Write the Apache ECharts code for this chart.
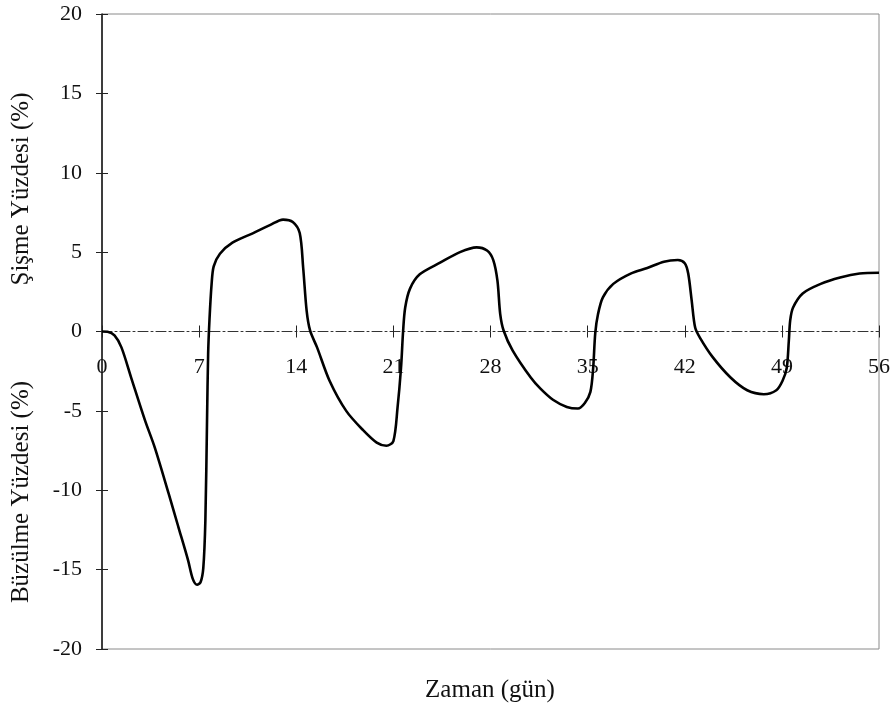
<!DOCTYPE html>
<html>
<head>
<meta charset="utf-8">
<script src="https://cdn.jsdelivr.net/npm/echarts@6/dist/echarts.min.js"></script>
<style>
html,body{margin:0;padding:0;background:#fff;}
#chart{width:895px;height:708px;}
</style>
</head>
<body>
<div id="chart"></div>
<script>
const days = [0, 0.4, 0.9, 1.4, 2.1, 3.1, 3.8, 4.8, 5.5, 6.2, 6.55, 6.85, 7.1, 7.3, 7.45, 7.57, 7.65, 7.75, 7.9, 8.05, 8.5, 9.4, 10.9, 12.1, 13.05, 13.75, 14.25, 14.5, 14.75, 15.0, 15.5, 16.4, 17.6, 18.8, 19.8, 20.5, 21.0, 21.3, 21.55, 21.7, 21.85, 22.2, 22.9, 24.4, 25.8, 27.0, 27.75, 28.2, 28.5, 28.7, 28.95, 29.6, 30.9, 31.6, 32.5, 33.5, 34.3, 34.8, 35.2, 35.4, 35.55, 35.75, 36.1, 36.85, 38.1, 39.3, 40.5, 41.5, 42.0, 42.25, 42.5, 42.75, 43.1, 44.0, 45.3, 46.5, 47.7, 48.6, 49.05, 49.35, 49.5, 49.6, 49.8, 50.5, 51.8, 53.2, 54.6, 56];
const values = [0, -0.02, -0.25, -1.0, -2.9, -5.6, -7.3, -10.2, -12.3, -14.4, -15.6, -15.95, -15.8, -14.9, -11.9, -5.6, -1.4, 0.8, 3.0, 4.1, 4.9, 5.6, 6.2, 6.7, 7.05, 6.9, 6.2, 4.0, 1.3, 0.05, -1.0, -3.1, -5.0, -6.2, -7.0, -7.2, -6.9, -4.8, -2.3, 0, 1.5, 2.7, 3.6, 4.35, 5.0, 5.3, 5.1, 4.5, 3.2, 1.1, 0.05, -1.2, -2.9, -3.6, -4.3, -4.75, -4.85, -4.5, -3.8, -2.3, -0.1, 1.1, 2.15, 3.0, 3.65, 4.0, 4.4, 4.5, 4.3, 3.65, 1.95, 0.25, -0.4, -1.6, -2.9, -3.7, -3.95, -3.7, -3.1, -2.3, -0.6, 0.7, 1.5, 2.4, 3.0, 3.4, 3.65, 3.7];
const xTicks = [0, 7, 14, 21, 28, 35, 42, 49, 56];
const yTicks = [-20, -15, -10, -5, 0, 5, 10, 15, 20];
const xTitle = 'Zaman (gün)';
const yTitleTop = 'Şişme Yüzdesi (%)';
const yTitleBottom = 'Büzülme Yüzdesi (%)';

const FONT = '"Liberation Serif", "DejaVu Serif", serif';
const W = 895, H = 708;
const G = {left: 102, right: 16, top: 14, bottom: 59};
const yMin = yTicks[0], yMax = yTicks[yTicks.length - 1];
const gridH = H - G.top - G.bottom;
// place the x axis on the zero line (negative offset from the grid bottom)
const zeroOffset = -gridH * (0 - yMin) / (yMax - yMin);

const chart = echarts.init(document.getElementById('chart'), null, {renderer: 'canvas'});
const seriesData = days.map((d, i) => [d, values[i]]);

const xBase = {
  type: 'value', min: xTicks[0], max: xTicks[xTicks.length - 1], interval: 7,
  position: 'bottom', offset: zeroOffset, splitLine: {show: false}
};
const yBase = {
  type: 'value', min: yMin, max: yMax, interval: 5,
  position: 'left', offset: 0, splitLine: {show: false}
};

chart.setOption({
  animation: false,
  backgroundColor: '#fff',
  grid: Object.assign({show: true, borderColor: '#8a8a8a', borderWidth: 1}, G),
  xAxis: [
    Object.assign({}, xBase, {
      axisLine: {show: true, onZero: false, lineStyle: {color: '#333', width: 1, type: [10, 3, 2, 3]}},
      axisTick: {show: true, inside: false, length: 6, lineStyle: {color: '#222'}},
      axisLabel: {show: true, margin: 25, fontFamily: FONT, fontSize: 22, color: '#111'}
    }),
    Object.assign({}, xBase, {
      axisLine: {show: false, onZero: false},
      axisTick: {show: true, inside: true, length: 6, lineStyle: {color: '#222'}},
      axisLabel: {show: false}
    })
  ],
  yAxis: [
    Object.assign({}, yBase, {
      axisLine: {show: true, onZero: false, lineStyle: {color: '#111', width: 1.5}},
      axisTick: {show: true, inside: false, length: 6, lineStyle: {color: '#222'}},
      axisLabel: {show: true, margin: 20, fontFamily: FONT, fontSize: 22, color: '#111'}
    }),
    Object.assign({}, yBase, {
      axisLine: {show: false, onZero: false},
      axisTick: {show: true, inside: true, length: 6, lineStyle: {color: '#222'}},
      axisLabel: {show: false}
    })
  ],
  series: [{
    type: 'line',
    data: seriesData,
    xAxisIndex: 0, yAxisIndex: 0,
    showSymbol: false,
    smooth: 0.3,
    lineStyle: {color: '#000', width: 2.6},
    z: 5
  }],
  graphic: [
    {type: 'text', x: 490, y: 690, style: {text: xTitle, font: '25px ' + FONT, fill: '#111', textAlign: 'center', textVerticalAlign: 'middle'}},
    {type: 'text', x: 21, y: 189, rotation: Math.PI / 2, style: {text: yTitleTop, font: '25px ' + FONT, fill: '#111', textAlign: 'center', textVerticalAlign: 'middle'}},
    {type: 'text', x: 21, y: 492, rotation: Math.PI / 2, style: {text: yTitleBottom, font: '25px ' + FONT, fill: '#111', textAlign: 'center', textVerticalAlign: 'middle'}}
  ]
});
</script>
</body>
</html>
